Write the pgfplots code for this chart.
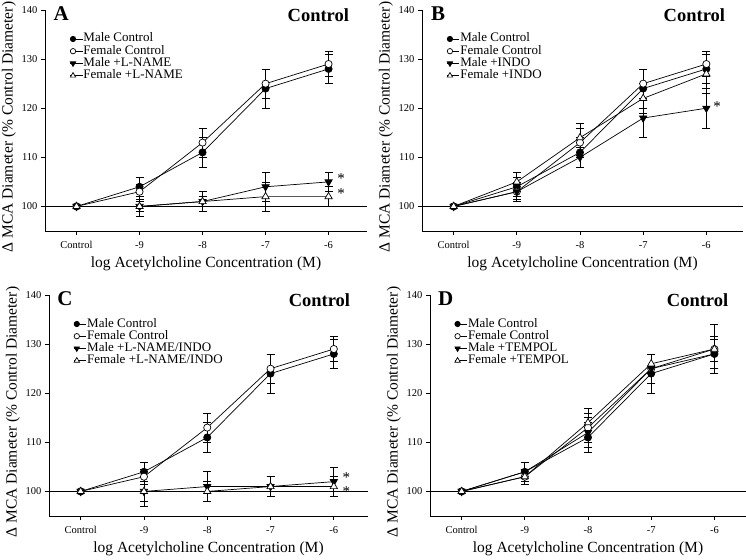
\documentclass[border=0pt]{standalone}
\usepackage{fontspec}
\setmainfont{Liberation Serif}
\usepackage{pgfplots}
\pgfplotsset{compat=1.18}

\pgfplotsset{
  panel/.style={
    scale only axis, height=221pt,
    axis lines*=left, axis line style={line width=0.8pt},
    xmin=-0.5, ymin=95, ymax=140,
    xtick={0,1,2,3,4}, xticklabels={Control,-9,-8,-7,-6},
    ytick={100,110,120,130,140},
    tick align=outside, tick pos=left, major tick length=4pt,
    tick style={line width=0.8pt, black},
    tick label style={font=\fontsize{10.5}{12}\selectfont},
    xticklabel style={yshift=-3pt},
    yticklabel style={/pgf/number format/assume math mode=true},
    xlabel={log Acetylcholine Concentration (M)},
    ylabel={Δ MCA Diameter (\% Control Diameter)},
    xlabel style={font=\fontsize{15.5}{16}\selectfont, yshift=-1pt},
    ylabel style={font=\fontsize{15.5}{16}\selectfont, yshift=-1pt, at={(ticklabel cs:0.47)}},
    legend style={draw=none, fill=none, at={(0.076,0.895)}, anchor=north west,
      nodes={font=\fontsize{13}{14}\selectfont, inner sep=0.6pt, text height=8pt, text depth=2pt},
      row sep=1pt, inner sep=0pt,
      legend cell align=left},
    every axis plot/.append style={line width=0.7pt},
    clip=false,
  },
  ser/.style={black, error bars/y dir=both, error bars/y explicit,
    error bars/error bar style={line width=0.7pt},
    error bars/error mark options={rotate=90, mark size=4pt, line width=0.7pt}},
  mc/.style={ser, mark=*, mark options={black, mark size=3.6pt}},
  fc/.style={ser, mark=*, mark options={fill=white, draw=black, mark size=3.6pt}},
  mt/.style={ser, mark=triangle*, mark options={black, rotate=180, mark size=4.2pt}},
  ft/.style={ser, mark=triangle*, mark options={fill=white, draw=black, mark size=4.2pt}},
  dotleg/.style={legend image code/.code={\path (-3pt,0pt) -- (9.5pt,0pt); \draw[##1] plot coordinates {(0pt,0pt)};}},
  lmc/.style={black, mark=*, mark size=2.7pt, dotleg},
  lfc/.style={black, mark=*, mark size=2.7pt, mark options={fill=white}, dotleg},
  lmt/.style={black, mark=triangle*, mark size=3.1pt, mark options={rotate=180}, dotleg},
  lft/.style={black, mark=triangle*, mark size=3.1pt, mark options={fill=white}, dotleg},
}

\newcommand{\basel}{\draw[line width=0.8pt] ({rel axis cs:0,0} |- {axis cs:0,100}) -- ({rel axis cs:1,0} |- {axis cs:0,100});}
\newcommand{\paneltitle}[1]{%
  \node[font=\fontsize{21}{22}\selectfont\bfseries] at (axis description cs:0.05,0.985) {#1};
  \node[font=\fontsize{18.5}{20}\selectfont\bfseries, anchor=east] at (axis description cs:0.955,0.975) {Control};}
\newcommand{\signif}[2]{\node[font=\fontsize{15}{16}\selectfont] at (axis cs:#1,#2) {*};}

\begin{document}
\begin{tikzpicture}
\useasboundingbox (0,0) rectangle (746pt,559pt);

% A
\begin{axis}[panel, width=322pt, xmax=4.61, at={(45pt,328pt)}]
\basel
\addlegendimage{lmc}\addlegendentry{Male Control}
\addlegendimage{lfc}\addlegendentry{Female Control}
\addlegendimage{lmt}\addlegendentry{Male +L-NAME}
\addlegendimage{lft}\addlegendentry{Female +L-NAME}
\addplot[mc, forget plot] coordinates {(0,100) +- (0,0) (1,104) +- (0,2) (2,111) +- (0,3) (3,124) +- (0,4) (4,128) +- (0,3)};
\addplot[fc, forget plot] coordinates {(0,100) +- (0,0) (1,103) +- (0,1.5) (2,113) +- (0,3) (3,125) +- (0,3) (4,129) +- (0,2.5)};
\addplot[mt, forget plot] coordinates {(0,100) +- (0,0) (1,100) +- (0,1) (2,101) +- (0,1) (3,104) +- (0,3) (4,105) +- (0,2)};
\addplot[ft, forget plot] coordinates {(0,100) +- (0,0) (1,100) +- (0,2) (2,101) +- (0,2) (3,102) +- (0,3) (4,102) +- (0,2)};
\signif{4.2}{105.6}
\signif{4.2}{102.6}
\paneltitle{A}
\end{axis}

% B
\begin{axis}[panel, width=321pt, xmax=4.58, at={(422pt,328pt)}]
\basel
\addlegendimage{lmc}\addlegendentry{Male Control}
\addlegendimage{lfc}\addlegendentry{Female Control}
\addlegendimage{lmt}\addlegendentry{Male +INDO}
\addlegendimage{lft}\addlegendentry{Female +INDO}
\addplot[mc, forget plot] coordinates {(0,100) +- (0,0) (1,104) +- (0,2) (2,111) +- (0,3) (3,124) +- (0,4) (4,128) +- (0,3)};
\addplot[fc, forget plot] coordinates {(0,100) +- (0,0) (1,103) +- (0,1.5) (2,113) +- (0,3) (3,125) +- (0,3) (4,129) +- (0,2.5)};
\addplot[mt, forget plot] coordinates {(0,100) +- (0,0) (1,103) +- (0,2) (2,110) +- (0,2) (3,118) +- (0,4) (4,120) +- (0,4)};
\addplot[ft, forget plot] coordinates {(0,100) +- (0,0) (1,105) +- (0,2) (2,114) +- (0,3) (3,122) +- (0,3) (4,127) +- (0,4)};
\signif{4.17}{120.3}
\paneltitle{B}
\end{axis}

% C
\begin{axis}[panel, width=319pt, xmax=4.54, at={(49pt,43pt)}]
\basel
\addlegendimage{lmc}\addlegendentry{Male Control}
\addlegendimage{lfc}\addlegendentry{Female Control}
\addlegendimage{lmt}\addlegendentry{Male +L-NAME/INDO}
\addlegendimage{lft}\addlegendentry{Female +L-NAME/INDO}
\addplot[mc, forget plot] coordinates {(0,100) +- (0,0) (1,104) +- (0,2) (2,111) +- (0,3) (3,124) +- (0,4) (4,128) +- (0,3)};
\addplot[fc, forget plot] coordinates {(0,100) +- (0,0) (1,103) +- (0,1.5) (2,113) +- (0,3) (3,125) +- (0,3) (4,129) +- (0,2.5)};
\addplot[mt, forget plot] coordinates {(0,100) +- (0,0) (1,100) +- (0,2) (2,101) +- (0,3) (3,101) +- (0,2) (4,102) +- (0,3)};
\addplot[ft, forget plot] coordinates {(0,100) +- (0,0) (1,100) +- (0,3) (2,100) +- (0,2) (3,101) +- (0,2) (4,101) +- (0,2)};
\signif{4.2}{102.9}
\signif{4.2}{100.0}
\paneltitle{C}
\end{axis}

% D
\begin{axis}[panel, width=316pt, xmax=4.5, at={(430pt,43pt)}]
\basel
\addlegendimage{lmc}\addlegendentry{Male Control}
\addlegendimage{lfc}\addlegendentry{Female Control}
\addlegendimage{lmt}\addlegendentry{Male +TEMPOL}
\addlegendimage{lft}\addlegendentry{Female +TEMPOL}
\addplot[mc, forget plot] coordinates {(0,100) +- (0,0) (1,104) +- (0,2) (2,111) +- (0,3) (3,124) +- (0,4) (4,128) +- (0,3)};
\addplot[fc, forget plot] coordinates {(0,100) +- (0,0) (1,103) +- (0,1.5) (2,113) +- (0,3) (3,125) +- (0,3) (4,129) +- (0,2.5)};
\addplot[mt, forget plot] coordinates {(0,100) +- (0,0) (1,104) +- (0,2) (2,112) +- (0,3) (3,125) +- (0,3) (4,128) +- (0,3)};
\addplot[ft, forget plot] coordinates {(0,100) +- (0,0) (1,103) +- (0,1.5) (2,114) +- (0,3) (3,126) +- (0,2) (4,129) +- (0,5)};
\paneltitle{D}
\end{axis}
\end{tikzpicture}
\end{document}
